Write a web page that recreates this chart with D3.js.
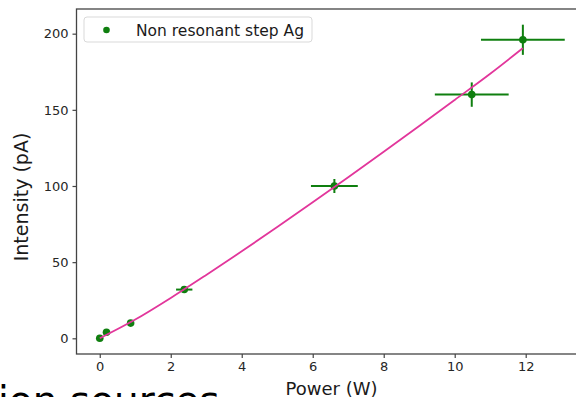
<!DOCTYPE html>
<html>
<head>
<meta charset="utf-8">
<script src="https://cdn.jsdelivr.net/npm/d3@7"></script>
<style>
  html, body { margin: 0; padding: 0; background: #fff; overflow: hidden; }
  svg { display: block; font-family: "DejaVu Sans", sans-serif; }
</style>
</head>
<body>
<script>
// ---- data ----
const power        = [0, 0.19, 0.87, 2.38, 6.61, 10.48, 11.92];
const intensity    = [0, 4, 10, 32, 100, 160, 196];
const powerErr     = [0, 0.03, 0.05, 0.23, 0.66, 1.04, 1.18];
const intensityErr = [0, 0.5, 1, 1.5, 4.6, 8, 9.9];

const fitPower     = [0, 1, 2, 3, 4, 5, 6, 7, 8, 9, 10, 11, 11.92];
const fitIntensity = [0, 12.3, 26.5, 41.6, 57.1, 73.1, 89.3, 105.8, 122.5, 139.4, 156.5, 173.7, 190.5];

const xTicks = [0, 2, 4, 6, 8, 10, 12];
const yTicks = [0, 50, 100, 150, 200];
const legendLabel = "Non resonant step Ag";
const xLabel = "Power (W)";
const yLabel = "Intensity (pA)";

// ---- layout ----
const W = 576, H = 397;
const mLeft = 76.5, mTop = 9, mBottom = 354, mRight = 588;

const svg = d3.select("body").append("svg").attr("width", W).attr("height", H);

const x = d3.scaleLinear().domain([-0.655, 13.755]).range([mLeft, mRight]);
const y = d3.scaleLinear().domain([-10.3, 216.2]).range([mBottom, mTop]);

const green = "#0f7f0f";
const pink = "#e2369b";

// axes
const xAxis = svg.append("g").attr("transform", `translate(0,${mBottom})`)
  .call(d3.axisBottom(x).tickValues(xTicks).tickSize(4).tickPadding(4).tickFormat(d3.format("d")));
const yAxis = svg.append("g").attr("transform", `translate(${mLeft},0)`)
  .call(d3.axisLeft(y).tickValues(yTicks).tickSize(4).tickPadding(4).tickFormat(d3.format("d")));
[xAxis, yAxis].forEach(g => {
  g.select(".domain").remove();
  g.selectAll(".tick line").attr("stroke", "#444").attr("stroke-width", 1.2);
  g.selectAll(".tick text").attr("fill", "#262626").style("font-size", "13px")
    .style("font-family", "'DejaVu Sans', sans-serif");
});

// frame (right spine lies beyond the visible area)
svg.append("rect").attr("x", mLeft).attr("y", mTop)
  .attr("width", mRight - mLeft).attr("height", mBottom - mTop)
  .attr("fill", "none").attr("stroke", "#444").attr("stroke-width", 1.3);

// error bars
const pts = power.map((p, i) => ({p, v: intensity[i], ep: powerErr[i], ev: intensityErr[i]}));
const eb = svg.append("g");
eb.selectAll("line.h").data(pts).join("line").attr("class", "h")
  .attr("x1", d => x(d.p - d.ep)).attr("x2", d => x(d.p + d.ep))
  .attr("y1", d => y(d.v)).attr("y2", d => y(d.v))
  .attr("stroke", green).attr("stroke-width", 2);
eb.selectAll("line.v").data(pts).join("line").attr("class", "v")
  .attr("x1", d => x(d.p)).attr("x2", d => x(d.p))
  .attr("y1", d => y(d.v - d.ev)).attr("y2", d => y(d.v + d.ev))
  .attr("stroke", green).attr("stroke-width", 2);

svg.append("g").selectAll("circle").data(pts).join("circle")
  .attr("cx", d => x(d.p)).attr("cy", d => y(d.v)).attr("r", 3.8)
  .attr("fill", green);

// fit curve
const fit = fitPower.map((p, i) => [p, fitIntensity[i]]);
svg.append("path").datum(fit)
  .attr("d", d3.line().x(d => x(d[0])).y(d => y(d[1])).curve(d3.curveMonotoneX))
  .attr("fill", "none").attr("stroke", pink).attr("stroke-width", 1.8);

// legend
const lg = svg.append("g");
lg.append("rect").attr("x", 84).attr("y", 17).attr("width", 228).attr("height", 25)
  .attr("rx", 3).attr("fill", "#fff").attr("fill-opacity", 0.8)
  .attr("stroke", "#d9d9d9").attr("stroke-width", 1);
lg.append("circle").attr("cx", 106.5).attr("cy", 30).attr("r", 3.3).attr("fill", green);
lg.append("text").attr("x", 136).attr("y", 35.5).text(legendLabel)
  .attr("fill", "#1a1a1a").style("font-size", "15.5px");

// axis labels
svg.append("text").attr("x", 331.5).attr("y", 394.5).attr("text-anchor", "middle")
  .attr("fill", "#1a1a1a").style("font-size", "18px").text(xLabel);
svg.append("text").attr("transform", "translate(28,197) rotate(-90)")
  .attr("text-anchor", "middle").attr("fill", "#1a1a1a").style("font-size", "19px").text(yLabel);

// slide text cut off at the bottom edge (as in the reference)
svg.append("text").attr("x", -2).attr("y", 414).attr("fill", "#000")
  .style("font-size", "39px").text("ion sources");
</script>
</body>
</html>
